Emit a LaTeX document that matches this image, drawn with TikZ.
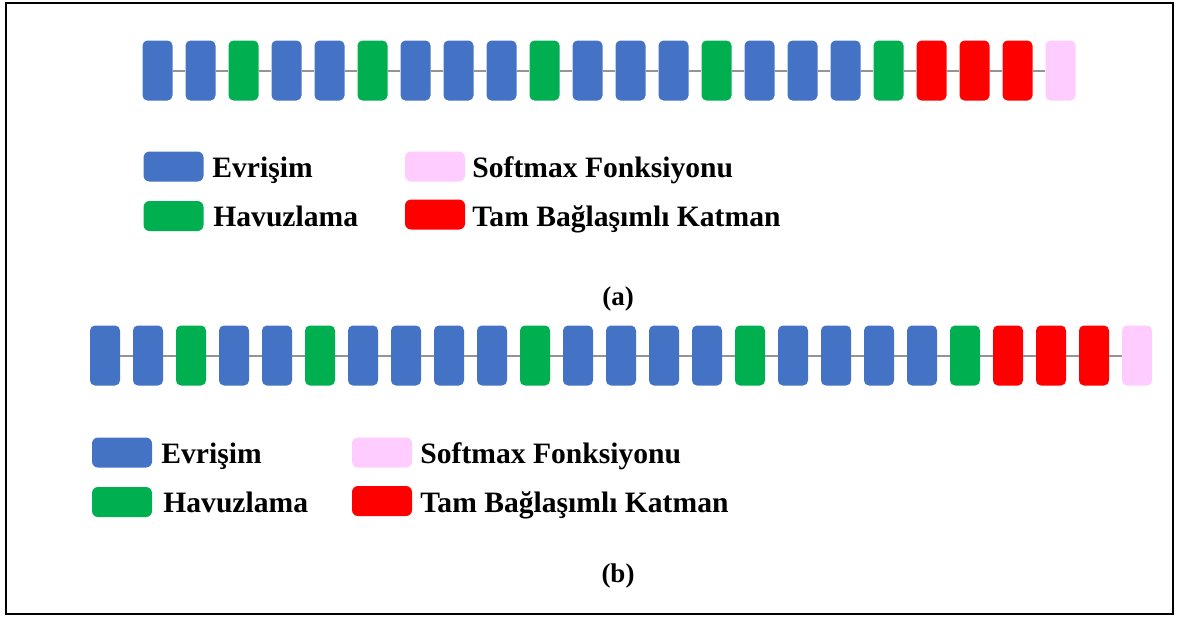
\documentclass[tikz,border=0pt]{standalone}
\usepackage{fontspec}
\setmainfont{Liberation Serif}
\usepackage{tikz}
\usetikzlibrary{positioning,calc}
\usepackage{xcolor}

\definecolor{convblue}{HTML}{4472C4}
\definecolor{poolgreen}{HTML}{00B050}
\definecolor{fcred}{HTML}{FF0000}
\definecolor{softpink}{HTML}{FFCCFF}
\definecolor{linkgray}{HTML}{949494}

\tikzset{
    layer/.style={rectangle, rounded corners=2.5pt, minimum width=15pt, minimum height=30pt, inner sep=0pt},
    swatch/.style={rectangle, rounded corners=3pt, minimum width=30pt, minimum height=15pt, inner sep=0pt},
    link/.style={linkgray, line width=1pt},
    legtext/.style={anchor=base west, inner sep=0pt, font=\bfseries\fontsize{14.8}{17}\selectfont},
    caption/.style={inner sep=0pt, font=\bfseries\fontsize{13.5}{15}\selectfont}
}

\begin{document}
\begin{tikzpicture}[x=0.5pt, y=-0.5pt]
                    \useasboundingbox (0,0) rectangle (1179,617);
                    % Frame
                    \draw[line width=1.25pt] (6,3) rectangle (1173,614);

                    % Row (a): 22 layers
                    \foreach \c [count=\i] in {convblue,convblue,poolgreen,convblue,convblue,poolgreen,
                                               convblue,convblue,convblue,poolgreen,convblue,convblue,convblue,poolgreen,
                                               convblue,convblue,convblue,poolgreen,fcred,fcred,fcred,softpink}
                        \node[layer, fill=\c] (a\i) at ({157.5+43*(\i-1)}, 70.5) {};
                    \foreach \i in {1,...,21} {
                        \pgfmathtruncatemacro\j{\i+1}
                        \draw[link] (a\i) -- (a\j);
                    }

                    % Legend (a)
                    \node[swatch, fill=convblue] (ka1) at (173.5,166.5) {};
                    \node[swatch, fill=poolgreen] (ka2) at (173.5,216) {};
                    \node[swatch, fill=softpink] (ka3) at (435,166.5) {};
                    \node[swatch, fill=fcred] (ka4) at (435,214.5) {};
                    \node[legtext] (ta1) at (212,177) {Evrişim};
                    \node[legtext] (ta2) at (213,226) {Havuzlama};
                    \node[legtext] (ta3) at (472,177) {Softmax Fonksiyonu};
                    \node[legtext] (ta4) at (472,226) {Tam Bağlaşımlı Katman};
                    \node[caption] (capa) at (618,299) {(a)};

                    % Row (b): 25 layers
                    \foreach \c [count=\i] in {convblue,convblue,poolgreen,convblue,convblue,poolgreen,
                                               convblue,convblue,convblue,convblue,poolgreen,convblue,convblue,convblue,convblue,poolgreen,
                                               convblue,convblue,convblue,convblue,poolgreen,fcred,fcred,fcred,softpink}
                        \node[layer, fill=\c] (b\i) at ({105+43*(\i-1)}, 355.5) {};
                    \foreach \i in {1,...,24} {
                        \pgfmathtruncatemacro\j{\i+1}
                        \draw[link] (b\i) -- (b\j);
                    }

                    % Legend (b)
                    \node[swatch, fill=convblue] (kb1) at (122,452.5) {};
                    \node[swatch, fill=poolgreen] (kb2) at (122,502) {};
                    \node[swatch, fill=softpink] (kb3) at (382,452.5) {};
                    \node[swatch, fill=fcred] (kb4) at (382,501) {};
                    \node[legtext] (tb1) at (161,463) {Evrişim};
                    \node[legtext] (tb2) at (163,512) {Havuzlama};
                    \node[legtext] (tb3) at (420,463) {Softmax Fonksiyonu};
                    \node[legtext] (tb4) at (420,512) {Tam Bağlaşımlı Katman};
                    \node[caption] (capb) at (618,576) {(b)};
                \end{tikzpicture}
\end{document}
